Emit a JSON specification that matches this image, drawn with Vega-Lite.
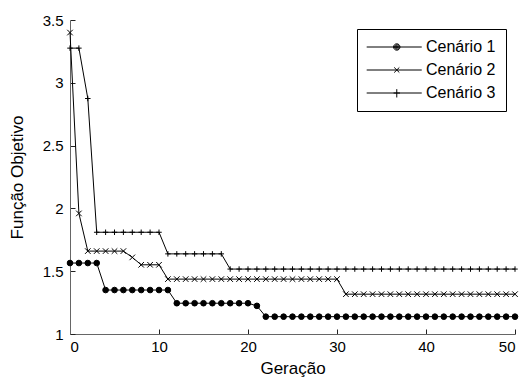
{
  "$schema": "https://vega.github.io/schema/vega-lite/v6.json",
  "width": 445,
  "height": 314,
  "autosize": {"type": "none"},
  "padding": {"left": 70, "top": 20, "right": 8, "bottom": 44},
  "background": "white",
  "config": {
    "view": {"stroke": null},
    "font": "Liberation Sans",
    "axis": {
      "grid": false,
      "domainColor": "#666666",
      "domainWidth": 1,
      "tickColor": "#222222",
      "tickSize": -5,
      "labelFont": "Liberation Sans",
      "labelFontSize": 15,
      "labelColor": "black",
      "titleFont": "Liberation Sans",
      "titleFontSize": 17,
      "titleFontWeight": "normal",
      "titleColor": "black"
    }
  },
  "data": {
    "values": [
      {"g":0,"s":"Cenário 1","v":1.565},{"g":1,"s":"Cenário 1","v":1.565},{"g":2,"s":"Cenário 1","v":1.565},{"g":3,"s":"Cenário 1","v":1.565},
      {"g":4,"s":"Cenário 1","v":1.35},{"g":5,"s":"Cenário 1","v":1.35},{"g":6,"s":"Cenário 1","v":1.35},{"g":7,"s":"Cenário 1","v":1.35},
      {"g":8,"s":"Cenário 1","v":1.35},{"g":9,"s":"Cenário 1","v":1.35},{"g":10,"s":"Cenário 1","v":1.35},{"g":11,"s":"Cenário 1","v":1.35},
      {"g":12,"s":"Cenário 1","v":1.245},{"g":13,"s":"Cenário 1","v":1.245},{"g":14,"s":"Cenário 1","v":1.245},{"g":15,"s":"Cenário 1","v":1.245},
      {"g":16,"s":"Cenário 1","v":1.245},{"g":17,"s":"Cenário 1","v":1.245},{"g":18,"s":"Cenário 1","v":1.245},{"g":19,"s":"Cenário 1","v":1.245},
      {"g":20,"s":"Cenário 1","v":1.245},{"g":21,"s":"Cenário 1","v":1.224},
      {"g":22,"s":"Cenário 1","v":1.138},{"g":23,"s":"Cenário 1","v":1.138},{"g":24,"s":"Cenário 1","v":1.138},{"g":25,"s":"Cenário 1","v":1.138},
      {"g":26,"s":"Cenário 1","v":1.138},{"g":27,"s":"Cenário 1","v":1.138},{"g":28,"s":"Cenário 1","v":1.138},{"g":29,"s":"Cenário 1","v":1.138},
      {"g":30,"s":"Cenário 1","v":1.138},{"g":31,"s":"Cenário 1","v":1.138},{"g":32,"s":"Cenário 1","v":1.138},{"g":33,"s":"Cenário 1","v":1.138},
      {"g":34,"s":"Cenário 1","v":1.138},{"g":35,"s":"Cenário 1","v":1.138},{"g":36,"s":"Cenário 1","v":1.138},{"g":37,"s":"Cenário 1","v":1.138},
      {"g":38,"s":"Cenário 1","v":1.138},{"g":39,"s":"Cenário 1","v":1.138},{"g":40,"s":"Cenário 1","v":1.138},{"g":41,"s":"Cenário 1","v":1.138},
      {"g":42,"s":"Cenário 1","v":1.138},{"g":43,"s":"Cenário 1","v":1.138},{"g":44,"s":"Cenário 1","v":1.138},{"g":45,"s":"Cenário 1","v":1.138},
      {"g":46,"s":"Cenário 1","v":1.138},{"g":47,"s":"Cenário 1","v":1.138},{"g":48,"s":"Cenário 1","v":1.138},{"g":49,"s":"Cenário 1","v":1.138},
      {"g":50,"s":"Cenário 1","v":1.138},

      {"g":0,"s":"Cenário 2","v":3.4},{"g":1,"s":"Cenário 2","v":1.96},
      {"g":2,"s":"Cenário 2","v":1.66},{"g":3,"s":"Cenário 2","v":1.66},{"g":4,"s":"Cenário 2","v":1.66},{"g":5,"s":"Cenário 2","v":1.66},{"g":6,"s":"Cenário 2","v":1.66},
      {"g":7,"s":"Cenário 2","v":1.61},
      {"g":8,"s":"Cenário 2","v":1.551},{"g":9,"s":"Cenário 2","v":1.551},{"g":10,"s":"Cenário 2","v":1.551},
      {"g":11,"s":"Cenário 2","v":1.437},{"g":12,"s":"Cenário 2","v":1.437},{"g":13,"s":"Cenário 2","v":1.437},{"g":14,"s":"Cenário 2","v":1.437},
      {"g":15,"s":"Cenário 2","v":1.437},{"g":16,"s":"Cenário 2","v":1.437},{"g":17,"s":"Cenário 2","v":1.437},{"g":18,"s":"Cenário 2","v":1.437},
      {"g":19,"s":"Cenário 2","v":1.437},{"g":20,"s":"Cenário 2","v":1.437},{"g":21,"s":"Cenário 2","v":1.437},{"g":22,"s":"Cenário 2","v":1.437},
      {"g":23,"s":"Cenário 2","v":1.437},{"g":24,"s":"Cenário 2","v":1.437},{"g":25,"s":"Cenário 2","v":1.437},{"g":26,"s":"Cenário 2","v":1.437},
      {"g":27,"s":"Cenário 2","v":1.437},{"g":28,"s":"Cenário 2","v":1.437},{"g":29,"s":"Cenário 2","v":1.437},{"g":30,"s":"Cenário 2","v":1.437},
      {"g":31,"s":"Cenário 2","v":1.317},{"g":32,"s":"Cenário 2","v":1.317},{"g":33,"s":"Cenário 2","v":1.317},{"g":34,"s":"Cenário 2","v":1.317},
      {"g":35,"s":"Cenário 2","v":1.317},{"g":36,"s":"Cenário 2","v":1.317},{"g":37,"s":"Cenário 2","v":1.317},{"g":38,"s":"Cenário 2","v":1.317},
      {"g":39,"s":"Cenário 2","v":1.317},{"g":40,"s":"Cenário 2","v":1.317},{"g":41,"s":"Cenário 2","v":1.317},{"g":42,"s":"Cenário 2","v":1.317},
      {"g":43,"s":"Cenário 2","v":1.317},{"g":44,"s":"Cenário 2","v":1.317},{"g":45,"s":"Cenário 2","v":1.317},{"g":46,"s":"Cenário 2","v":1.317},
      {"g":47,"s":"Cenário 2","v":1.317},{"g":48,"s":"Cenário 2","v":1.317},{"g":49,"s":"Cenário 2","v":1.317},{"g":50,"s":"Cenário 2","v":1.317},

      {"g":0,"s":"Cenário 3","v":3.276},{"g":1,"s":"Cenário 3","v":3.276},{"g":2,"s":"Cenário 3","v":2.875},
      {"g":3,"s":"Cenário 3","v":1.81},{"g":4,"s":"Cenário 3","v":1.81},{"g":5,"s":"Cenário 3","v":1.81},{"g":6,"s":"Cenário 3","v":1.81},
      {"g":7,"s":"Cenário 3","v":1.81},{"g":8,"s":"Cenário 3","v":1.81},{"g":9,"s":"Cenário 3","v":1.81},{"g":10,"s":"Cenário 3","v":1.81},
      {"g":11,"s":"Cenário 3","v":1.638},{"g":12,"s":"Cenário 3","v":1.638},{"g":13,"s":"Cenário 3","v":1.638},{"g":14,"s":"Cenário 3","v":1.638},
      {"g":15,"s":"Cenário 3","v":1.638},{"g":16,"s":"Cenário 3","v":1.638},{"g":17,"s":"Cenário 3","v":1.638},
      {"g":18,"s":"Cenário 3","v":1.517},{"g":19,"s":"Cenário 3","v":1.517},{"g":20,"s":"Cenário 3","v":1.517},{"g":21,"s":"Cenário 3","v":1.517},
      {"g":22,"s":"Cenário 3","v":1.517},{"g":23,"s":"Cenário 3","v":1.517},{"g":24,"s":"Cenário 3","v":1.517},{"g":25,"s":"Cenário 3","v":1.517},
      {"g":26,"s":"Cenário 3","v":1.517},{"g":27,"s":"Cenário 3","v":1.517},{"g":28,"s":"Cenário 3","v":1.517},{"g":29,"s":"Cenário 3","v":1.517},
      {"g":30,"s":"Cenário 3","v":1.517},{"g":31,"s":"Cenário 3","v":1.517},{"g":32,"s":"Cenário 3","v":1.517},{"g":33,"s":"Cenário 3","v":1.517},
      {"g":34,"s":"Cenário 3","v":1.517},{"g":35,"s":"Cenário 3","v":1.517},{"g":36,"s":"Cenário 3","v":1.517},{"g":37,"s":"Cenário 3","v":1.517},
      {"g":38,"s":"Cenário 3","v":1.517},{"g":39,"s":"Cenário 3","v":1.517},{"g":40,"s":"Cenário 3","v":1.517},{"g":41,"s":"Cenário 3","v":1.517},
      {"g":42,"s":"Cenário 3","v":1.517},{"g":43,"s":"Cenário 3","v":1.517},{"g":44,"s":"Cenário 3","v":1.517},{"g":45,"s":"Cenário 3","v":1.517},
      {"g":46,"s":"Cenário 3","v":1.517},{"g":47,"s":"Cenário 3","v":1.517},{"g":48,"s":"Cenário 3","v":1.517},{"g":49,"s":"Cenário 3","v":1.517},
      {"g":50,"s":"Cenário 3","v":1.517}
    ]
  },
  "encoding": {
    "x": {
      "field": "g", "type": "quantitative",
      "scale": {"domain": [0, 50], "nice": false, "zero": false},
      "axis": {"values": [0, 10, 20, 30, 40, 50], "title": "Geração", "labelPadding": 10, "titlePadding": 6}
    },
    "y": {
      "field": "v", "type": "quantitative",
      "scale": {"domain": [1, 3.5], "nice": false, "zero": false},
      "axis": {"values": [1, 1.5, 2, 2.5, 3, 3.5], "format": ".1~f", "title": "Função Objetivo", "labelPadding": 12, "titlePadding": 16}
    }
  },
  "layer": [
    {
      "mark": {"type": "line", "color": "black", "strokeWidth": 1},
      "encoding": {"detail": {"field": "s", "type": "nominal"}}
    },
    {
      "mark": {"type": "point", "filled": true, "fill": "black", "stroke": "black", "strokeWidth": 1, "opacity": 1},
      "encoding": {
        "shape": {
          "field": "s", "type": "nominal",
          "scale": {"domain": ["Cenário 1", "Cenário 2", "Cenário 3"], "range": ["circle", "M-1,-1L1,1M-1,1L1,-1", "M-1,0L1,0M0,-1L0,1"]},
          "legend": null
        },
        "size": {
          "field": "s", "type": "nominal",
          "scale": {"domain": ["Cenário 1", "Cenário 2", "Cenário 3"], "range": [32, 30, 72]},
          "legend": null
        }
      }
    },
    {
      "transform": [{"filter": "datum.g == 0"}],
      "mark": {"type": "point", "filled": false, "color": "black", "strokeWidth": 1, "opacity": 0},
      "encoding": {
        "shape": {
          "field": "s", "type": "nominal",
          "scale": {"domain": ["Cenário 1", "Cenário 2", "Cenário 3"], "range": [
            "M-1.3,0L7.3,0M2.9,0A0.5,0.5 0 1,1 3.9,0A0.5,0.5 0 1,1 2.9,0ZM3.05,0A0.35,0.35 0 1,1 3.75,0A0.35,0.35 0 1,1 3.05,0ZM3.2,0A0.2,0.2 0 1,1 3.6,0A0.2,0.2 0 1,1 3.2,0ZM3.32,0A0.08,0.08 0 1,1 3.48,0A0.08,0.08 0 1,1 3.32,0Z",
            "M-1.3,0L7.3,0M3,-0.4L3.8,0.4M3,0.4L3.8,-0.4",
            "M-1.3,0L7.3,0M2.9,0L3.9,0M3.4,-0.6L3.4,0.7"
          ]},
          "legend": {
            "title": null,
            "orient": "none",
            "legendX": 287,
            "legendY": 9,
            "symbolSize": 164,
            "symbolStrokeColor": "black",
            "symbolStrokeWidth": 1,
            "symbolOpacity": 1,
            "labelFont": "Liberation Sans",
            "labelFontSize": 16,
            "labelColor": "black",
            "labelOffset": 43,
            "strokeColor": "black",
            "fillColor": "white",
            "padding": 10,
            "rowPadding": 7
          }
        }
      }
    }
  ],
  "resolve": {"scale": {"shape": "independent", "size": "independent"}}
}
